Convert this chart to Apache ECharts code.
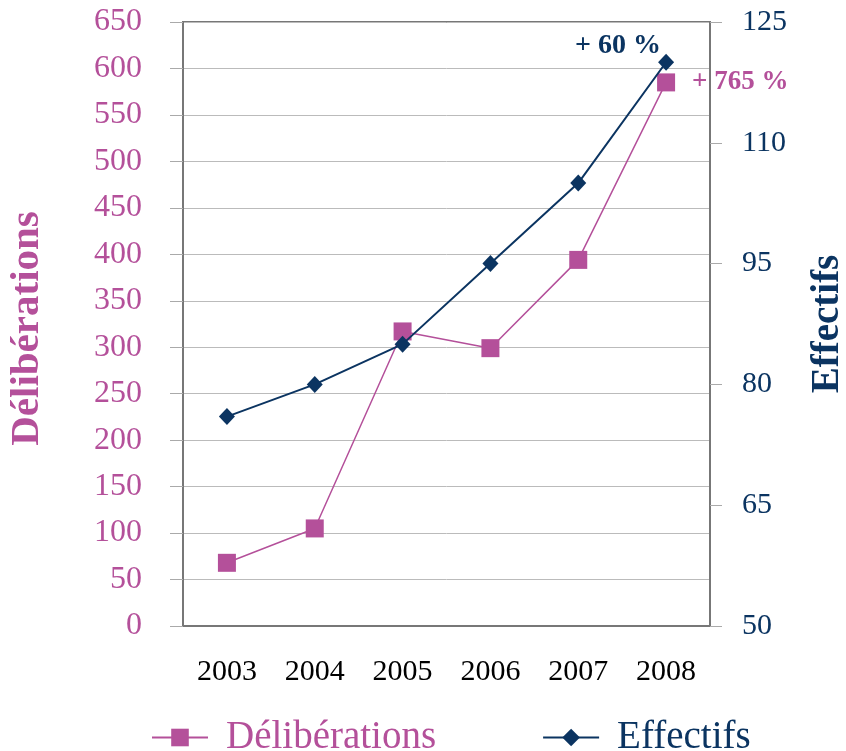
<!DOCTYPE html>
<html>
<head>
<meta charset="utf-8">
<script src="https://cdn.jsdelivr.net/npm/echarts@6/dist/echarts.min.js"></script>
<style>
  html, body { margin: 0; padding: 0; background: #fff; }
  #chart { width: 846px; height: 751px; }
</style>
</head>
<body>
<div id="chart"></div>
<script>
// données
const years = ['2003', '2004', '2005', '2006', '2007', '2008'];
const deliberations = [68, 105, 317, 299, 394, 585];
const effectifs = [76, 80, 85, 95, 105, 120];
const delibTicks = { min: 0, max: 650, interval: 50 };
const effTicks = { min: 50, max: 125, interval: 15 };
const delibGrowth = '+ 765 %';
const effGrowth = '+ 60 %';

const pink = '#b4509a';
const navy = '#0b3461';
const serif = '"Liberation Serif", "DejaVu Serif", serif';

let myChart = echarts.init(document.getElementById('chart'));

let option = {
    backgroundColor: '#fff',
    textStyle: { fontFamily: serif },
    grid: {
        left: 183, right: 136, top: 22, bottom: 125,
        outerBoundsMode: 'none',
        containLabel: false,
        show: true, borderColor: '#777', borderWidth: 2
    },
    legend: {
        left: 146, top: 713,
        itemWidth: 56, itemHeight: 22, itemGap: 106,
        textStyle: { fontSize: 39, fontFamily: serif, padding: [0, 0, 0, 13] },
        data: [
            { name: 'Délibérations', textStyle: { color: pink } },
            { name: 'Effectifs', textStyle: { color: navy } }
        ]
    },
    xAxis: {
        type: 'category',
        data: years,
        axisLine: { lineStyle: { color: '#777', width: 2 } },
        axisTick: { length: 7, lineStyle: { color: '#aaa' } },
        axisLabel: { color: '#000', fontSize: 30, margin: 31 }
    },
    yAxis: [
        {
            type: 'value',
            min: delibTicks.min, max: delibTicks.max, interval: delibTicks.interval,
            name: 'Délibérations',
            nameLocation: 'middle', nameGap: 135, nameRotate: 90,
            nameTextStyle: { color: pink, fontSize: 41, fontWeight: 'bold', padding: [0, 9, 0, 0] },
            axisLine: { show: true, lineStyle: { color: '#777', width: 2 } },
            axisTick: { show: true, length: 13, lineStyle: { color: '#aaa' } },
            axisLabel: { color: pink, fontSize: 32, margin: 41 },
            splitLine: { lineStyle: { color: '#bbb', width: 1 } }
        },
        {
            type: 'value',
            position: 'right',
            min: effTicks.min, max: effTicks.max, interval: effTicks.interval,
            name: 'Effectifs',
            nameLocation: 'middle', nameGap: 98, nameRotate: 90,
            nameTextStyle: { color: navy, fontSize: 39, fontWeight: 'bold' },
            axisLine: { show: true, lineStyle: { color: '#777', width: 2 } },
            axisTick: { show: true, length: 12, lineStyle: { color: '#aaa' } },
            axisLabel: { color: navy, fontSize: 30, margin: 32 },
            splitLine: { show: false }
        }
    ],
    series: [
        {
            name: 'Délibérations',
            type: 'line',
            yAxisIndex: 0,
            data: deliberations.map(function (v, i) {
                if (i === deliberations.length - 1) {
                    return {
                        value: v,
                        label: {
                            show: true, position: 'right', distance: 17,
                            formatter: delibGrowth, color: pink,
                            fontSize: 27, fontWeight: 'bold', fontFamily: serif
                        }
                    };
                }
                return v;
            }),
            symbol: 'rect', symbolSize: 18,
            itemStyle: { color: pink },
            lineStyle: { color: pink, width: 1.5 },
            z: 3
        },
        {
            name: 'Effectifs',
            type: 'line',
            yAxisIndex: 1,
            data: effectifs.map(function (v, i) {
                if (i === effectifs.length - 1) {
                    return {
                        value: v,
                        label: {
                            show: true, position: 'top', distance: 2, offset: [-48, 8],
                            formatter: effGrowth, color: navy,
                            fontSize: 28, fontWeight: 'bold', fontFamily: serif
                        }
                    };
                }
                return v;
            }),
            symbol: 'diamond', symbolSize: [16, 17],
            itemStyle: { color: navy },
            lineStyle: { color: navy, width: 2 },
            z: 4
        }
    ]
};
myChart.setOption(option);
</script>
</body>
</html>
